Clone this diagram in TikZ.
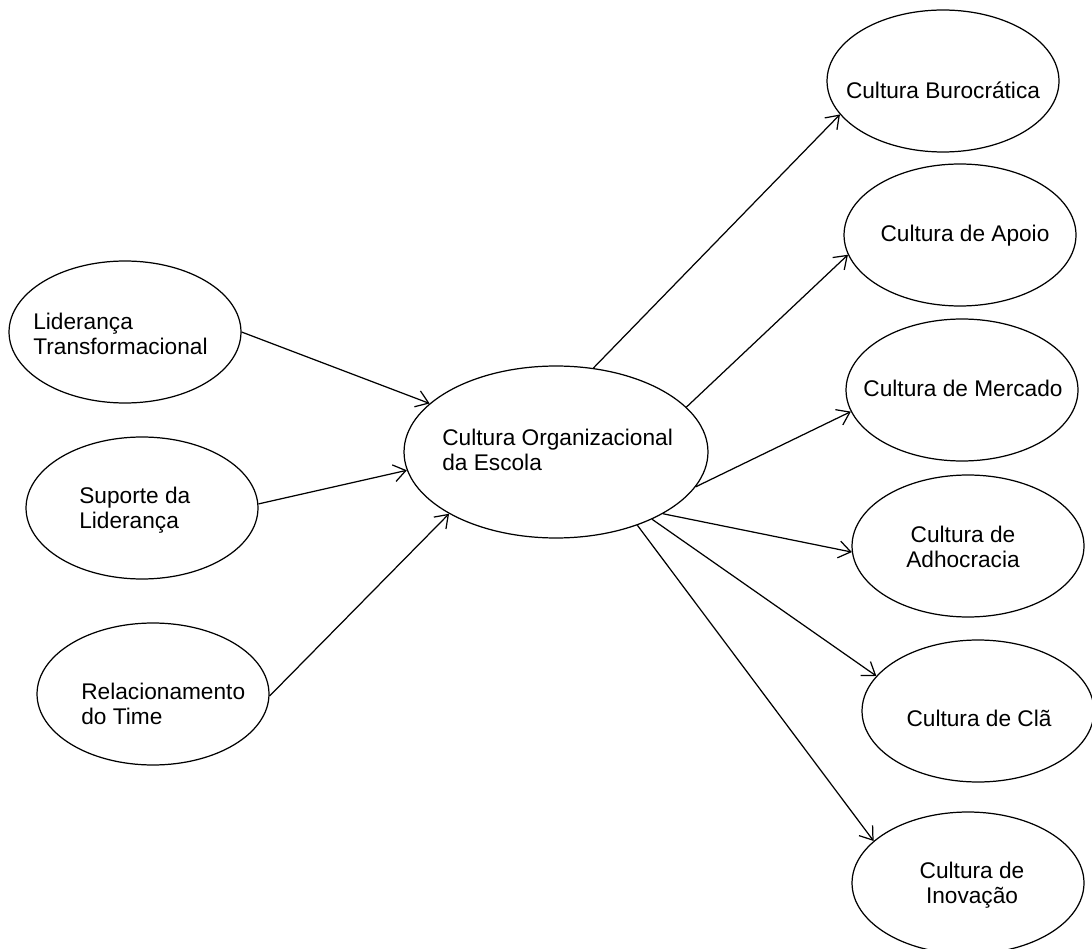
\documentclass[tikz,border=0pt]{standalone}
\usepackage{fontspec}
\setmainfont{Liberation Sans}
\usetikzlibrary{shapes.geometric,arrows.meta}

\begin{document}
\begin{tikzpicture}[x=0.02cm, y=-0.02cm,
  construto/.style={ellipse, draw, line width=0.7pt, minimum width=4.64cm, minimum height=2.84cm, inner sep=0pt},
  rotulo/.style={inner sep=0pt, font=\fontsize{12.9}{14.5}\selectfont},
  seta/.style={-{Straight Barb[length=2.4mm, width=3.4mm]}, line width=0.7pt}]
\useasboundingbox (0,0) rectangle (1092,949);

% antecedentes
\node[construto] (lider) at (125,332) {};
\node[construto] (suporte) at (142,508) {};
\node[construto] (relac) at (153,694) {};

% construto central
\node[construto, minimum width=6.08cm, minimum height=3.44cm] (org) at (556,452) {};

% tipos de cultura
\node[construto] (buro) at (943,81) {};
\node[construto] (apoio) at (960,235) {};
\node[construto] (mercado) at (962,390) {};
\node[construto] (adhoc) at (968,546) {};
\node[construto] (cla) at (978,711) {};
\node[construto] (inov) at (968,883) {};

% textos
\node[rotulo, anchor=west, align=left] (lider-t) at (33,334) {Liderança\\Transformacional};
\node[rotulo, anchor=west, align=left] (suporte-t) at (79,510) {Suporte da\\Liderança};
\node[rotulo, anchor=west, align=left] (relac-t) at (81,704) {Relacionamento\\do Time};
\node[rotulo, anchor=west, align=left] (org-t) at (442,450) {Cultura Organizacional\\da Escola};
\node[rotulo] (buro-t) at (943,90) {Cultura Burocrática};
\node[rotulo] (apoio-t) at (965,236) {Cultura de Apoio};
\node[rotulo] (mercado-t) at (963,388) {Cultura de Mercado};
\node[rotulo, align=center] (adhoc-t) at (963,547) {Cultura de\\Adhocracia};
\node[rotulo] (cla-t) at (979,718) {Cultura de Clã};
\node[rotulo, align=center] (inov-t) at (972,885) {Cultura de\\Inovação};

% setas de entrada
\draw[seta] (lider.0) -- (org.159);
\draw[seta] (suporte.2.5) -- (org.187);
\draw[seta] (relac.-1.5) -- (org.210);

% setas de saída
\draw[seta] (org.66.5) -- (buro.198);
\draw[seta] (org.19) -- (apoio.190);
\draw[seta] (org.-14) -- (mercado.191);
\draw[seta] (org.-30) -- (adhoc.183);
\draw[seta] (org.-35) -- (cla.161);
\draw[seta] (org.-42) -- (inov.156);
\end{tikzpicture}
\end{document}
